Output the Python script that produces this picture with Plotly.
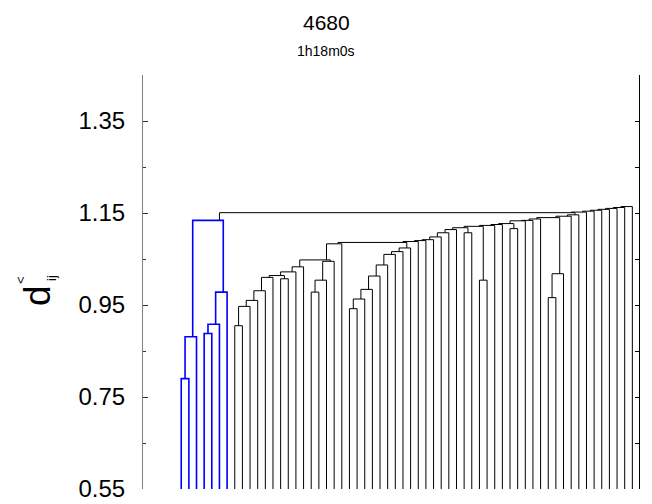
import plotly.graph_objects as go

# ---- linkage of 60 leaves: merge k creates cluster 60 + k ----
n_leaves = 60
link_left = [
    0, 60, 3, 62, 63, 61,
    7, 66, 67, 68, 69, 13, 70, 72, 73,
    17, 75, 76, 74, 78,
    22, 80, 81, 82, 83, 84, 85, 86,
    79, 88, 89, 90, 91, 92, 93,
    37, 94, 39, 96, 98, 99, 43, 100, 102, 103, 104,
    48, 106, 105, 108, 109,
    65, 111, 112, 113, 114, 115, 116, 117,
]
link_right = [
    1, 2, 4, 5, 6, 64,
    8, 9, 10, 11, 12, 14, 71, 15, 16,
    18, 19, 20, 77, 21,
    23, 24, 25, 26, 27, 28, 29, 30,
    87, 31, 32, 33, 34, 35, 36,
    38, 95, 40, 97, 41, 42, 44, 101, 45, 46, 47,
    49, 50, 107, 51, 52,
    110, 53, 54, 55, 56, 57, 58, 59,
]
link_height = [
    0.790, 0.881, 0.888, 0.908, 0.978, 1.134,
    0.905, 0.947, 0.960, 0.981, 1.010, 1.007, 1.014, 1.022, 1.033,
    0.978, 1.004, 1.045, 1.048, 1.083,
    0.942, 0.963, 0.984, 1.013, 1.037, 1.060, 1.066, 1.074,
    1.086, 1.088, 1.090, 1.092, 1.098, 1.107, 1.114,
    1.107, 1.118, 1.004, 1.121, 1.123, 1.125, 1.116, 1.127, 1.133, 1.134, 1.137,
    0.966, 1.018, 1.140, 1.143, 1.146,
    1.1507, 1.152, 1.154, 1.156, 1.158, 1.160, 1.162, 1.164,
]
highlight_root = 65          # cluster drawn in blue

title_text = "4680"
subtitle_text = "1h18m0s"
y_ticks = [0.55, 0.75, 0.95, 1.15, 1.35]
y_range = [0.55, 1.45]

# ---- layout of the tree ----
children = {n_leaves + k: (l, r) for k, (l, r) in enumerate(zip(link_left, link_right))}
height = {n_leaves + k: h for k, h in enumerate(link_height)}
root = n_leaves + len(link_left) - 1

order = []


def walk(node):
    if node < n_leaves:
        order.append(node)
    else:
        walk(children[node][0])
        walk(children[node][1])


walk(root)
leaf_pos = {leaf: i for i, leaf in enumerate(order)}


def xpos(node):
    if node < n_leaves:
        return leaf_pos[node]
    return xpos(children[node][1]) - 0.5


def ypos(node):
    return height.get(node, 0.0)


def subtree(node, acc):
    acc.add(node)
    if node >= n_leaves:
        for c in children[node]:
            subtree(c, acc)
    return acc


blue_nodes = subtree(highlight_root, set())

segs = {"blue": ([], []), "black": ([], [])}
for node, (l, r) in children.items():
    key = "blue" if node in blue_nodes else "black"
    xs, ys = segs[key]
    xs += [xpos(l), xpos(l), xpos(r), xpos(r), None]
    ys += [ypos(l), height[node], height[node], ypos(r), None]

fig = go.Figure()
fig.add_trace(go.Scatter(x=segs["black"][0], y=segs["black"][1], mode="lines",
                         line=dict(color="#000000", width=1), hoverinfo="skip",
                         showlegend=False))
fig.add_trace(go.Scatter(x=segs["blue"][0], y=segs["blue"][1], mode="lines",
                         line=dict(color="#0000ff", width=1.6), hoverinfo="skip",
                         showlegend=False))
fig.add_trace(go.Scatter(x=[None], y=[None], yaxis="y2", mode="lines",
                         hoverinfo="skip", showlegend=False))

font = "Liberation Sans, Arial, sans-serif"
L, R, T, B = 143, 13, 75, 15
W, H = 652, 504
pw, ph = W - L - R, H - T - B


def px(x):
    return (x - L) / pw


def py(y):
    return (H - B - y) / ph


fig.update_layout(
    width=W, height=H,
    margin=dict(l=L, r=R, t=T, b=B, pad=0, autoexpand=False),
    paper_bgcolor="white", plot_bgcolor="white",
    font=dict(family=font, color="black"),
    xaxis=dict(range=[-5.0, 59.87], visible=False, showgrid=False, zeroline=False,
               automargin=False),
    yaxis=dict(range=y_range, tickvals=y_ticks, ticktext=[f"{v:.2f}" for v in y_ticks],
               ticks="inside", ticklen=5, tickcolor="#333333", tickwidth=1,
               ticklabelstandoff=12, automargin=False,
               showline=True, linecolor="#808080", linewidth=1,
               showgrid=False, zeroline=False,
               tickfont=dict(size=24, family=font, color="black"),
               minor=dict(tick0=0.55, dtick=0.1, ticks="inside", ticklen=3,
                          tickcolor="#333333", showgrid=False)),
    yaxis2=dict(range=y_range, overlaying="y", side="right",
                tickvals=y_ticks, showticklabels=False, automargin=False,
                ticks="inside", ticklen=4, tickcolor="black",
                showline=True, linecolor="black", linewidth=1,
                showgrid=False, zeroline=False,
                minor=dict(tick0=0.55, dtick=0.1, ticks="inside", ticklen=4,
                           tickcolor="black", showgrid=False)),
)

ann = [
    dict(text=title_text, x=px(326), y=py(22), font=dict(size=21)),
    dict(text=subtitle_text, x=px(326), y=py(51), font=dict(size=14)),
    dict(text="d", x=px(37), y=py(296), font=dict(size=37), textangle=-90),
    dict(text="&lt;", x=px(20), y=py(280), font=dict(size=13), textangle=-90),
    dict(text="ij", x=px(51), y=py(278), font=dict(size=13), textangle=-90),
]
for a in ann:
    fig.add_annotation(xref="paper", yref="paper", showarrow=False,
                       xanchor="center", yanchor="middle", **a)

fig.write_html("out.html")
